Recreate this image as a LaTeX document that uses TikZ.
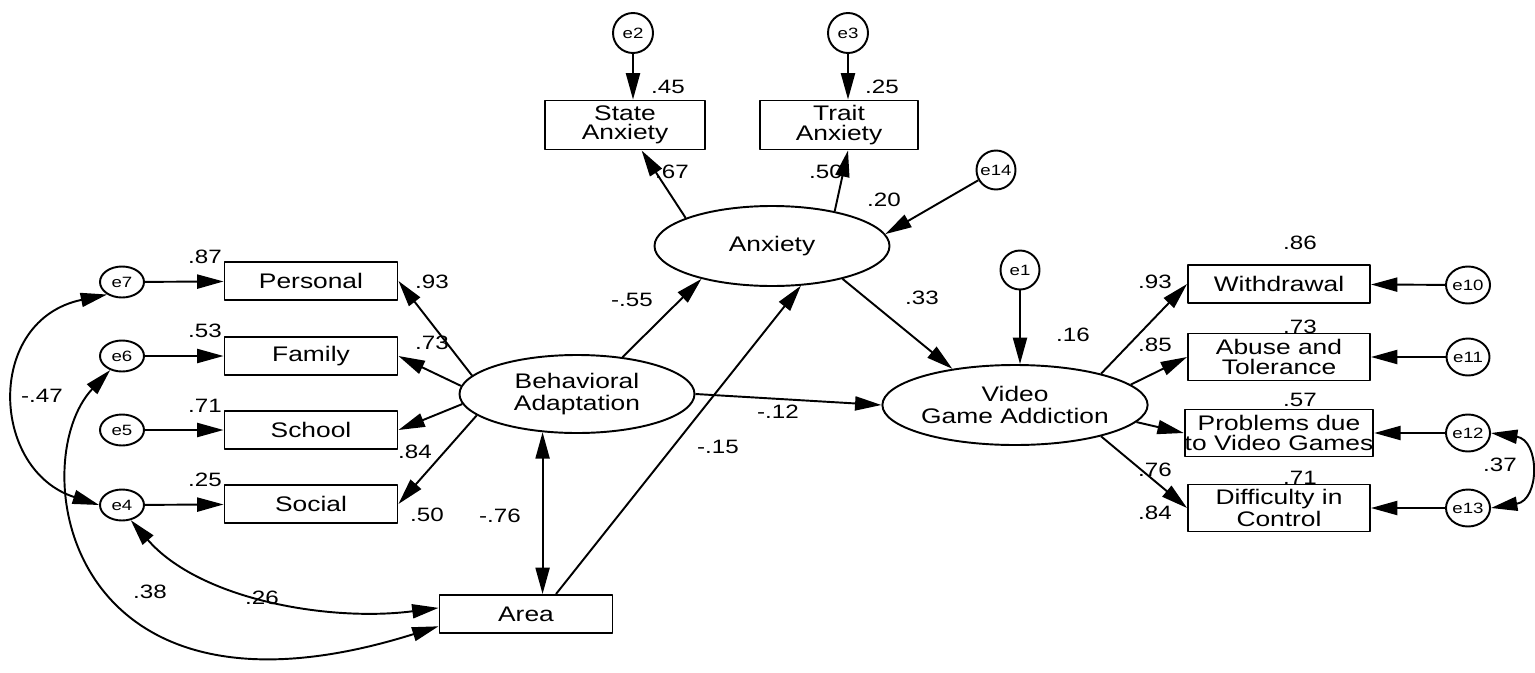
\documentclass[tikz,border=0pt]{standalone}
\usepackage{fontspec}
\setmainfont[FakeStretch=1.25]{Liberation Sans}
\usetikzlibrary{shapes.geometric,arrows.meta,calc}
\begin{document}
\begin{tikzpicture}[x=0.2mm,y=-0.2mm,line join=round,>={Triangle[length=15pt,width=8pt]},
  obs/.style={draw,line width=1.1pt,minimum width=34.6mm,minimum height=7.6mm,inner sep=0pt,align=center,font=\fontsize{12}{11}\selectfont},
  lat/.style={draw,ellipse,line width=1.1pt,inner sep=0pt,align=center,font=\fontsize{12}{12}\selectfont},
  err/.style={draw,circle,line width=1.1pt,minimum size=7.8mm,inner sep=0pt,font=\fontsize{8.5}{8.5}\selectfont},
  errl/.style={err,ellipse,minimum width=8.8mm,minimum height=6.2mm},
  errr/.style={err,ellipse,minimum width=8.6mm,minimum height=7.4mm},
  num/.style={font=\fontsize{11}{11}\selectfont,inner sep=0pt},
  arr/.style={->,line width=1.1pt}]
\useasboundingbox (0,0) rectangle (1535,672);
% anxiety part
\node[err,minimum size=8mm] (e2) at (633,33) {e2};
\node[err,minimum size=8mm] (e3) at (848,33) {e3};
\node[obs,minimum width=32mm,minimum height=9.8mm] (sa) at (625,125) {State\\Anxiety};
\node[obs,minimum width=31.6mm,minimum height=9.8mm] (ta) at (839,125) {Trait\\Anxiety};
\node[err] (e14) at (996,170) {e14};
\node[lat,minimum width=47mm,minimum height=16mm] (anx) at (772,246) {Anxiety};
% behavioral adaptation
\node[errl] (e7) at (122,282) {e7};
\node[errl] (e6) at (122,356) {e6};
\node[errl] (e5) at (122,430) {e5};
\node[errl] (e4) at (122,505) {e4};
\node[obs] (pers) at (311,281) {Personal};
\node[obs] (fam) at (311,356) {Family};
\node[obs] (sch) at (311,430) {School};
\node[obs] (soc) at (311,504) {Social};
\node[lat,minimum width=47mm,minimum height=15.6mm] (ba) at (577,394) {Behavioral\\Adaptation};
\node[obs] (area) at (526,614) {Area};
% video game addiction
\node[err] (e1) at (1020,270) {e1};
\node[lat,minimum width=44mm,minimum height=16mm] (vga) at (1015,405) {Video\\Game Addiction};
\node[obs,minimum width=36.4mm] (wd) at (1279,284) {Withdrawal};
\node[obs,minimum width=36.4mm,minimum height=9.4mm] (abu) at (1279,357) {Abuse and\\Tolerance};
\node[obs,minimum width=36.4mm,minimum height=9.4mm] (prob) at (1279,433) {Problems due\\to Video Games};
\node[obs,minimum width=36.4mm,minimum height=9.4mm] (diff) at (1279,508) {Difficulty in\\Control};
\node[errr] (e10) at (1468,285) {e10};
\node[errr] (e11) at (1468,357) {e11};
\node[errr] (e12) at (1468,433) {e12};
\node[errr] (e13) at (1468,508) {e13};

\draw[arr] (e2.south) -- (e2.south |- sa.north);
\draw[arr] (e3.south) -- (e3.south |- ta.north);
\draw[arr] (anx.162) -- (sa);
\draw[arr] (anx.29) -- ($(ta.south)+(9,0)$);
\draw[arr] (e14) -- (anx.6);
\foreach \e/\b in {e7/pers,e6/fam,e5/sch,e4/soc}{\draw[arr] (\e) -- (\b);}
\foreach \a/\b in {170/pers,176/fam,185/sch,192/soc}{\draw[arr] (ba.\a) -- (\b.east);}
\draw[arr] (ba.39) -- (anx.205);
\draw[arr] ($(area.north)+(30,0)$) -- (anx.-54);
\draw[arr] (ba.east) -- (vga.west);
\draw[arr] (anx.-25) -- (vga.150);
\draw[arr,<->] (ba.228) -- (ba.228 |- area.north);
\draw[arr] (e1.south) -- (e1.south |- vga.north);
\foreach \a/\b in {20/wd,10/abu,-8/prob,-20/diff}{\draw[arr] (vga.\a) -- (\b.west);}
\foreach \e/\b in {e10/wd,e11/abu,e12/prob,e13/diff}{\draw[arr] (\e) -- (\b);}
% covariances
\draw[arr,<->] (e4.west) .. controls (-10,470) and (-15,320) .. (e7.220);
\draw[arr,<->] (e6.230) .. controls (25,460) and (60,745) .. (area.188);
\draw[arr,<->] (e4.300) .. controls (200,600) and (330,622) .. (area.176);
\draw[arr,<->] (e12.east) .. controls (1540,440) and (1540,500) .. (e13.east);
% estimates
\node[num] at (668,87) {.45};
\node[num] at (882,87) {.25};
\node[num] at (672,172) {.67};
\node[num] at (826,172) {.50};
\node[num] at (884,200) {.20};
\node[num] at (632,300) {-.55};
\node[num] at (922,298) {.33};
\node[num] at (1073,335) {.16};
\node[num] at (778,412) {-.12};
\node[num] at (718,447) {-.15};
\node[num] at (500,516) {-.76};
\node[num] at (205,257) {.87};
\node[num] at (205,331) {.53};
\node[num] at (205,406) {.71};
\node[num] at (205,480) {.25};
\node[num] at (432,282) {.93};
\node[num] at (432,343) {.73};
\node[num] at (415,452) {.84};
\node[num] at (427,515) {.50};
\node[num] at (42,396) {-.47};
\node[num] at (150,592) {.38};
\node[num] at (262,598) {.26};
\node[num] at (1155,282) {.93};
\node[num] at (1155,345) {.85};
\node[num] at (1155,470) {.76};
\node[num] at (1155,513) {.84};
\node[num] at (1300,243) {.86};
\node[num] at (1300,327) {.73};
\node[num] at (1300,400) {.57};
\node[num] at (1300,478) {.71};
\node[num] at (1500,465) {.37};
\end{tikzpicture}
\end{document}
